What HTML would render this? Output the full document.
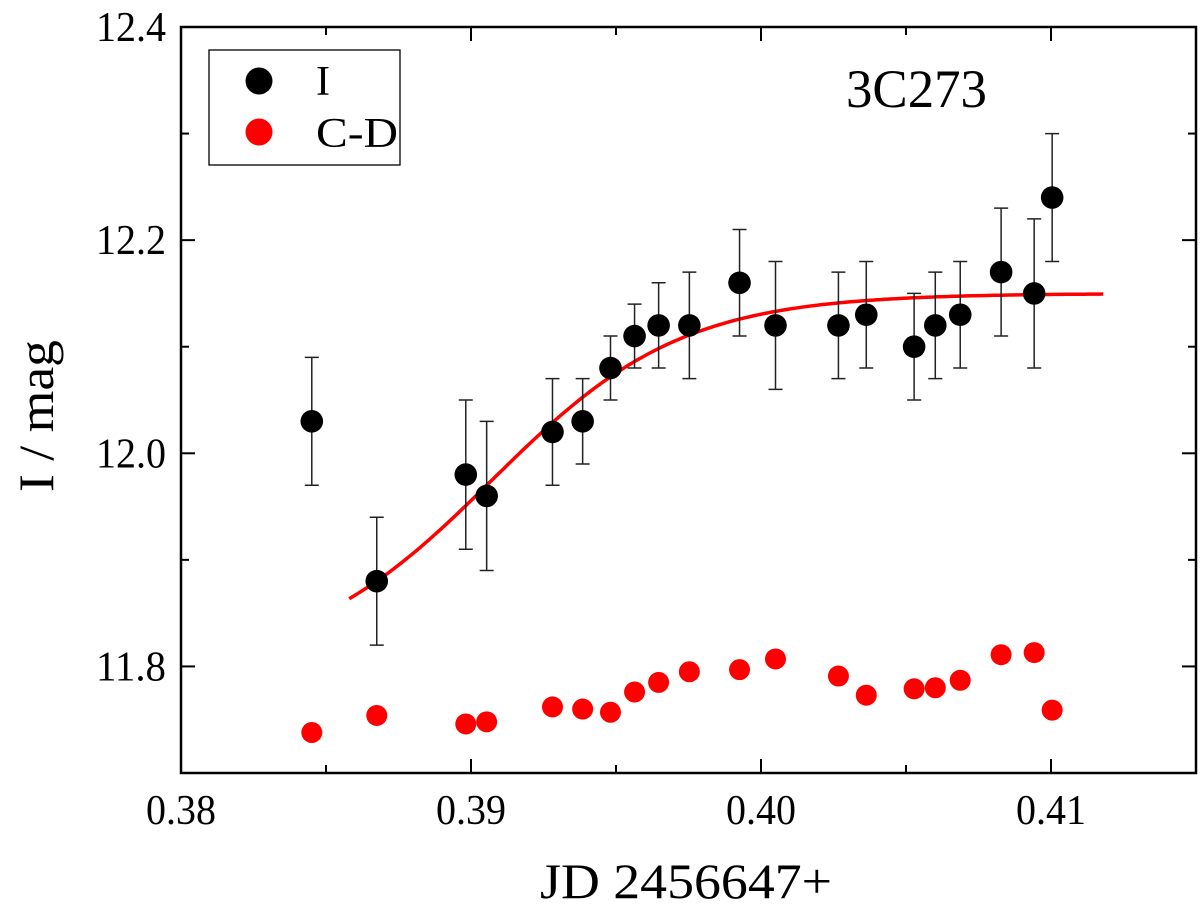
<!DOCTYPE html>
<html><head><meta charset="utf-8"><style>
html,body{margin:0;padding:0;background:#fff;}
svg{display:block;font-family:"Liberation Serif",serif;}
</style></head><body>
<svg id="chart" width="1200" height="913" viewBox="0 0 1200 913" xmlns="http://www.w3.org/2000/svg">
<g id="axes"></g>
<g id="fit"></g>
<g id="errs"></g>
<g id="pts"></g>
<text x="846" y="107" font-size="54" textLength="141" lengthAdjust="spacingAndGlyphs">3C273</text>
<g>
<rect x="209" y="50" width="191" height="115" fill="#fff" stroke="#000" stroke-width="1.3"/>
<circle cx="259" cy="81" r="13.5" fill="#000"/>
<text x="316" y="95" font-size="42">I</text>
<circle cx="259" cy="132" r="13.5" fill="#ff0000"/>
<text x="316" y="147" font-size="42" textLength="82" lengthAdjust="spacingAndGlyphs">C-D</text>
</g>
<text x="540" y="898" font-size="50" textLength="292" lengthAdjust="spacingAndGlyphs">JD 2456647+</text>
<text transform="translate(53,492) rotate(-90)" font-size="50" textLength="152" lengthAdjust="spacingAndGlyphs">I / mag</text>
</svg>
<script>
const xsI = [0.38451,0.38675,0.38982,0.39054,0.39281,0.39385,0.39481,0.39564,0.39647,0.39753,0.39926,0.40050,0.40267,0.40363,0.40528,0.40601,0.40687,0.40828,0.40942,0.41004];
const magI = [12.03,11.88,11.98,11.96,12.02,12.03,12.08,12.11,12.12,12.12,12.16,12.12,12.12,12.13,12.10,12.12,12.13,12.17,12.15,12.24];
const errI = [0.06,0.06,0.07,0.07,0.05,0.04,0.03,0.03,0.04,0.05,0.05,0.06,0.05,0.05,0.05,0.05,0.05,0.06,0.07,0.06];
const magCD = [11.738,11.754,11.746,11.748,11.762,11.760,11.757,11.776,11.785,11.795,11.797,11.807,11.791,11.773,11.779,11.780,11.787,11.811,11.813,11.759];
const fitParams = [11.80,12.15,0.39073,0.003275];
const fitRange = [0.3858,0.4118];
const xTicks = [0.38,0.39,0.40,0.41];
const xTickLabels = ["0.38","0.39","0.40","0.41"];
const yTicks = [11.8,12.0,12.2,12.4];
const yTickLabels = ["11.8","12.0","12.2","12.4"];

const L=181,R=1196,T=27,B=773;
const X0=0.38,X1=0.415,Y0=11.70,Y1=12.4;
const sx=v=>L+(v-X0)/(X1-X0)*(R-L);
const sy=v=>B-(v-Y0)/(Y1-Y0)*(B-T);
const NS="http://www.w3.org/2000/svg";
function mk(tag,attrs,parent){const e=document.createElementNS(NS,tag);for(const k in attrs)e.setAttribute(k,attrs[k]);parent.appendChild(e);return e;}

const ax=document.getElementById('axes');
const frame=mk('rect',{x:L,y:T,width:R-L,height:B-T,fill:'none',stroke:'#000','stroke-width':2.5},ax);


for(let v=0.38;v<=0.4151;v+=0.005){
  const major=Math.abs(Math.round(v*100)-v*100)<1e-6;const len=major?14:8;const x=sx(v);
  const t1=mk('line',{x1:x,x2:x,y1:B,y2:B-len,stroke:'#000','stroke-width':2},ax);
  
  
  const t2=mk('line',{x1:x,x2:x,y1:T,y2:T+len,stroke:'#000','stroke-width':2},ax);
  
  
}
for(let v=11.7;v<=12.401;v+=0.1){
  const major=Math.abs(Math.round(v*5)-v*5)<1e-6;const len=major?14:8;const y=sy(v);
  const t1=mk('line',{x1:L,x2:L+len,y1:y,y2:y,stroke:'#000','stroke-width':2},ax);
  
  
  const t2=mk('line',{x1:R,x2:R-len,y1:y,y2:y,stroke:'#000','stroke-width':2},ax);
  
  
}
xTicks.forEach((v,i)=>{
  const t=mk('text',{x:sx(v),y:824,'font-size':42,'text-anchor':'middle',textLength:70,lengthAdjust:'spacingAndGlyphs'},ax);t.textContent=xTickLabels[i];
  
  
});
yTicks.forEach((v,i)=>{
  const t=mk('text',{x:166,y:sy(v)+14,'font-size':42,'text-anchor':'end',textLength:70,lengthAdjust:'spacingAndGlyphs'},ax);t.textContent=yTickLabels[i];
  
  
});

const [A1,A2,xc,dx]=fitParams;
let d='';
for(let i=0;i<=200;i++){const x=fitRange[0]+(fitRange[1]-fitRange[0])*i/200;const y=A2+(A1-A2)/(1+Math.exp((x-xc)/dx));d+=(i?'L':'M')+sx(x).toFixed(1)+' '+sy(y).toFixed(1);}
const fp=mk('path',{d:d,fill:'none',stroke:'#ff0000','stroke-width':3.5},document.getElementById('fit'));



const eg=document.getElementById('errs'),pg=document.getElementById('pts');
xsI.forEach((xv,i)=>{
  const x=sx(xv),yt=sy(magI[i]+errI[i]),yb=sy(magI[i]-errI[i]);
  const g=mk('path',{d:`M${x} ${yt}V${yb}M${x-7} ${yt}H${x+7}M${x-7} ${yb}H${x+7}`,stroke:'#222','stroke-width':1.5,fill:'none'},eg);
  
  
  const c=mk('circle',{cx:x,cy:sy(magCD[i]),r:10.5,fill:'#ff0000'},pg);
  
  
  const p=mk('circle',{cx:x,cy:sy(magI[i]),r:11.3,fill:'#000'},pg);
  
  
});
</script>
</body></html>
